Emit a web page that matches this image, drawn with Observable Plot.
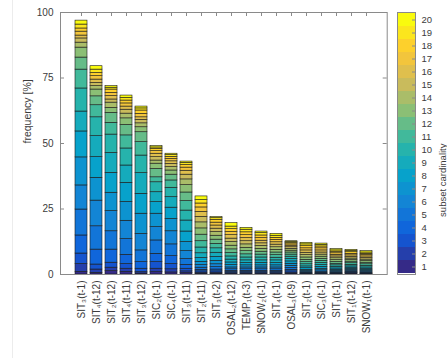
<!DOCTYPE html>
<html><head><meta charset="utf-8">
<script src="https://cdn.jsdelivr.net/npm/d3@7"></script>
<script src="https://cdn.jsdelivr.net/npm/@observablehq/plot@0.6"></script>
<style>
html,body{margin:0;padding:0;background:#fff;}
#wrap{position:relative;width:447px;height:358px;overflow:hidden;font-family:"Liberation Sans",Arial,sans-serif;}
#wrap svg{position:absolute;top:0;}
#edge{position:absolute;left:12px;top:0;width:1px;height:358px;background:#ececec;}
</style></head><body><div id="wrap"><div id="edge"></div></div>
<script>
const labels = ["SIT₃(t-1)","SIT₄(t-12)","SIT₂(t-12)","SIT₄(t-11)","SIT₃(t-12)","SIC₂(t-1)","SIC₄(t-1)","SIT₃(t-11)","SIT₂(t-11)","SIT₃(t-2)","OSAL₂(t-12)","TEMP₁(t-3)","SNOW₂(t-1)","SIT₄(t-1)","OSAL₃(t-9)","SIT₂(t-1)","SIC₃(t-1)","SIT₁(t-1)","SIT₁(t-12)","SNOW₁(t-1)"];
const cardinalities = [1,2,3,4,5,6,7,8,9,10,11,12,13,14,15,16,17,18,19,20];
const yTicks = [0,25,50,75,100];

// frequency contribution of each subset cardinality (1..20), per variable
const b01 = [1.0,3.0,4.0,6.9,9.9,9.2,10.7,9.9,7.6,8.8,7.2,4.6,3.8,1.9,1.6,1.1,1.5,1.2,1.5,1.5];
const b02 = [0.6,1.3,1.9,5.7,8.9,9.8,8.7,7.9,8.0,7.2,4.6,3.4,2.6,1.3,1.2,1.3,1.3,1.2,1.3,1.3];
const b03 = [1.3,1.3,1.9,5.0,7.0,7.7,7.0,7.6,7.6,7.0,4.5,3.8,1.9,2.0,1.2,1.3,1.2,1.3,0.7,0.6];
const b04 = [1.0,1.2,1.8,3.5,6.0,7.0,7.2,7.3,6.6,6.5,5.0,4.0,2.5,1.8,1.5,1.2,1.2,1.1,1.0,0.9];
const b05 = [0.4,0.5,1.3,2.5,4.5,6.3,7.7,7.6,7.9,6.7,5.1,3.8,1.9,1.5,1.3,1.0,1.3,1.3,0.8,0.7];
const b06 = [0.9,1.3,2.5,3.2,5.1,5.1,5.1,4.4,3.8,3.8,1.9,3.2,2.0,1.2,1.3,1.3,1.0,0.9,0.5,0.5];
const b07 = [0.8,1.2,2.0,3.0,4.5,5.0,4.7,4.3,4.0,3.6,2.8,2.2,1.6,1.3,1.2,1.0,0.9,0.8,0.7,0.5];
const b08 = [0.5,0.7,1.0,1.5,2.2,3.0,3.5,4.0,4.2,3.8,3.6,3.3,2.8,2.2,1.8,1.5,1.2,1.0,0.8,0.5];
const b09 = [0.3,0.4,0.5,0.6,0.8,1.0,1.2,1.5,1.8,2.2,2.4,2.5,2.4,2.3,2.1,1.9,1.7,1.5,1.3,1.4];
const b10 = [0.3,0.4,0.5,0.7,0.9,1.1,1.3,1.5,1.6,1.7,1.7,1.6,1.5,1.4,1.3,1.2,1.1,1.1,0.6,0.4];
const b11 = [0.2,0.3,0.4,0.5,0.6,0.7,0.9,1.0,1.1,1.2,1.3,1.4,1.4,1.4,1.3,1.3,1.2,1.1,1.0,1.3];
const b12 = [0.2,0.3,0.4,0.5,0.6,0.7,0.8,0.9,1.0,1.1,1.2,1.2,1.3,1.3,1.2,1.2,1.1,1.1,1.0,0.7];
const b13 = [0.2,0.3,0.4,0.5,0.6,0.7,0.8,0.9,1.0,1.1,1.1,1.1,1.1,1.1,1.0,1.0,1.0,1.0,0.9,0.6];
const b14 = [0.2,0.3,0.4,0.5,0.6,0.7,0.8,0.9,1.0,1.0,1.0,1.0,1.0,1.0,1.0,0.9,0.9,0.8,0.8,0.7];
const b15 = [0.3,0.4,0.5,0.6,0.7,0.8,0.8,0.9,0.9,0.9,0.8,0.8,0.7,0.7,0.6,0.6,0.5,0.5,0.4,0.3];
const b16 = [0.1,0.1,0.2,0.2,0.3,0.4,0.5,0.6,0.7,0.8,0.8,0.9,0.9,0.9,0.9,0.9,0.8,0.8,0.7,0.6];
const b17 = [0.1,0.1,0.2,0.3,0.4,0.5,0.6,0.7,0.7,0.8,0.8,0.8,0.8,0.8,0.8,0.8,0.8,0.7,0.6,0.5];
const b18 = [0.1,0.1,0.2,0.2,0.3,0.4,0.5,0.5,0.6,0.6,0.6,0.7,0.7,0.7,0.7,0.6,0.6,0.6,0.5,0.5];
const b19 = [0.3,0.2,0.2,0.3,0.3,0.4,0.4,0.5,0.5,0.6,0.6,0.6,0.6,0.6,0.6,0.6,0.6,0.6,0.5,0.4];
const b20 = [0.1,0.1,0.2,0.2,0.3,0.4,0.4,0.5,0.5,0.6,0.6,0.6,0.6,0.6,0.6,0.6,0.5,0.5,0.5,0.5];
const segments = [b01,b02,b03,b04,b05,b06,b07,b08,b09,b10,b11,b12,b13,b14,b15,b16,b17,b18,b19,b20];

const parulaStops = ["#352a87","#0f5cdd","#1481d6","#06a4ca","#2eb7a4","#87bf77","#d1bb59","#fec832","#f9fb0e"];
const parula = d3.piecewise(d3.interpolateRgb, parulaStops);
const colorRange = cardinalities.map(k => parula((k - 1) / (cardinalities.length - 1)));
const colorScale = {type: "ordinal", domain: cardinalities, range: colorRange};

const rows = [];
labels.forEach((name, i) => segments[i].forEach((v, j) => rows.push({name, card: cardinalities[j], value: v})));

const W = 447, H = 358, mT = 12, mB = 84, mL = 60, mR = 60.3;
const innerW = W - mL - mR, innerH = H - mT - mB;
const font = "'Liberation Sans', Arial, sans-serif";
const axisGray = "#8a8a8a";
const textGray = "#3c3c3c";

const main = Plot.plot({
  width: W, height: H,
  marginTop: mT, marginBottom: mB, marginLeft: mL, marginRight: mR,
  style: {fontFamily: font, fontSize: "10px", color: textGray, background: "transparent"},
  x: {domain: labels, paddingInner: 0.2, paddingOuter: 0.74},
  y: {domain: [0, 100]},
  color: colorScale,
  marks: [
    Plot.barY(rows, {x: "name", y: "value", fill: "card", stroke: "#1a1a1a", strokeWidth: 0.6}),
    Plot.frame({stroke: axisGray}),
    Plot.tickY(yTicks, {y: d => d, insetRight: innerW - 4, stroke: axisGray}),
    Plot.tickY(yTicks, {y: d => d, insetLeft: innerW - 4, stroke: axisGray}),
    Plot.tickX(labels, {x: d => d, insetBottom: innerH - 4, stroke: axisGray}),
    Plot.axisY(yTicks, {tickSize: 0, tickPadding: 7, label: null, fontSize: 10}),
    Plot.axisX({tickRotate: -90, tickSize: 0, tickPadding: 6, label: null, fontSize: 10}),
    Plot.text(["frequency [%]"], {text: d => d, frameAnchor: "left", dx: -33, rotate: -90, fontSize: 10.5, fill: textGray})
  ]
});
main.style.left = "0px";

const cb = Plot.plot({
  width: 60, height: H,
  marginTop: mT, marginBottom: mB, marginLeft: 10, marginRight: 32,
  style: {fontFamily: font, fontSize: "9.5px", color: textGray, background: "transparent"},
  x: {domain: [0, 1], axis: null},
  y: {type: "band", domain: cardinalities.slice().reverse(), padding: 0, axis: null},
  color: colorScale,
  marks: [
    Plot.barX(cardinalities, {x1: 0, x2: 1, y: d => d, fill: d => d}),
    Plot.frame({stroke: axisGray}),
    Plot.tickY(cardinalities, {y: d => d, insetLeft: 15, stroke: axisGray}),
    Plot.axisY(cardinalities, {anchor: "right", tickSize: 0, tickPadding: 6, label: null, fontSize: 9.5}),
    Plot.text(["subset cardinality"], {text: d => d, frameAnchor: "right", dx: 27, rotate: -90, fontSize: 9.5, fill: textGray})
  ]
});
cb.style.left = "387px";

const wrap = document.getElementById("wrap");
wrap.appendChild(main);
wrap.appendChild(cb);
</script>
</body></html>
